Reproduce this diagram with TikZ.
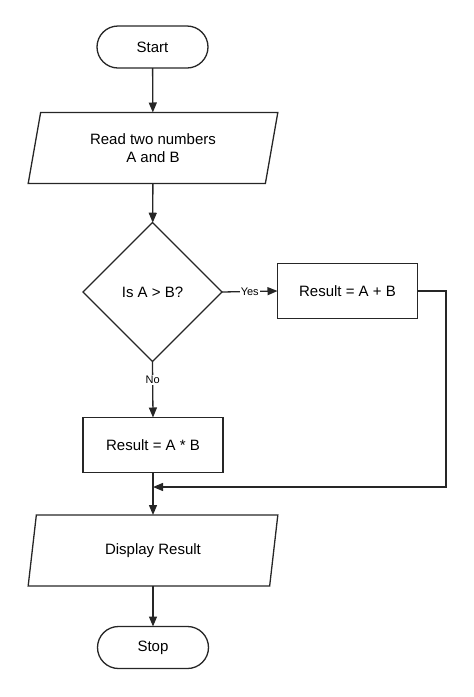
\documentclass[tikz,border=0pt]{standalone}
\usepackage{fontspec}
\setmainfont{Liberation Sans}
\usetikzlibrary{shapes.geometric,arrows.meta,calc}
\begin{document}
\begin{tikzpicture}[x=1pt,y=-1pt,
  every node/.style={font=\fontsize{15}{18}\selectfont, inner sep=0pt, outer sep=0pt},
  base/.style={draw=black!85, line width=1.3pt, align=center},
  term/.style={base, rectangle, rounded corners=21pt, minimum width=111pt, minimum height=42pt},
  io/.style={base, trapezium, trapezium left angle=76.5, trapezium right angle=103.5, trapezium stretches=true, minimum width=250pt, minimum height=71pt},
  proc/.style={base, rectangle, minimum width=140pt, minimum height=55pt},
  dec/.style={base, diamond, aspect=1, minimum width=139pt, minimum height=139pt},
  conn/.style={draw=black!85, line width=1.3pt, -{Triangle[length=10pt,width=8pt]}},
  lbl/.style={font=\fontsize{11}{13}\selectfont, fill=white, inner sep=1pt}
]
\useasboundingbox (0,0) rectangle (474,697);
\node[term] (start) at (152.5,47) {Start};
\node[io] (read) at (153,148) {Read two numbers\\A and B};
\node[dec] (cond) at (152.5,292) {Is A > B?};
\node[proc] (plus) at (347.5,291) {Result = A + B};
\node[proc] (mult) at (153,445) {Result = A * B};
\node[io] (disp) at (153,550.5) {Display Result};
\node[term] (stop) at (153,647.5) {Stop};
\coordinate (j) at (153,487);
\coordinate (rx) at (446,487);

\draw[conn] (start) -- (read);
\draw[conn] (read) -- (cond);
\draw[conn] (cond.east) -- node[lbl] {Yes} (plus.west);
\draw[conn] (cond.south) -- node[lbl, pos=0.33] {No} (mult.north);
\draw[conn] (plus.east) -- (plus.east -| rx) -- (rx) -- (j);
\draw[conn] (mult.south) -- (disp.north -| mult.south);
\draw[conn] (disp) -- (stop);
\end{tikzpicture}
\end{document}
